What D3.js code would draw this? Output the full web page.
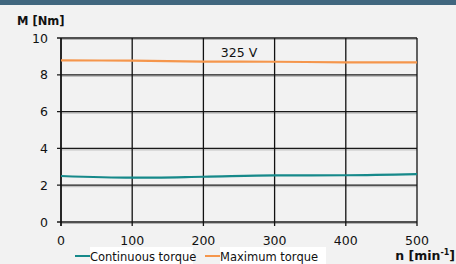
<!DOCTYPE html>
<html>
<head>
<meta charset="utf-8">
<script src="https://cdn.jsdelivr.net/npm/d3@7"></script>
<style>
  body { margin: 0; background: #f2f2f2; }
  text { font-family: "DejaVu Sans", Verdana, sans-serif; }
</style>
</head>
<body>
<div id="chart"></div>
<script>
// chart data
const speeds = [0, 100, 200, 300, 400, 500];
const continuousTorque = [2.5, 2.41, 2.46, 2.53, 2.54, 2.6];
const maximumTorque = [8.78, 8.77, 8.72, 8.71, 8.68, 8.68];
const xTicks = [0, 100, 200, 300, 400, 500];
const yTicks = [0, 2, 4, 6, 8, 10];
const seriesNames = ["Continuous torque", "Maximum torque"];
const voltageLabel = "325 V";

const W = 456, H = 264;
const m = { top: 38, right: 39, bottom: 42, left: 61 };

const svg = d3.select("#chart").append("svg")
  .attr("width", W).attr("height", H);

svg.append("rect").attr("width", W).attr("height", H).attr("fill", "#f2f2f2");
// header stripe
svg.append("rect").attr("width", W).attr("height", 5).attr("fill", "#41677f");

const x = d3.scaleLinear().domain([0, 500]).range([m.left, W - m.right]);
const y = d3.scaleLinear().domain([0, 10]).range([H - m.bottom, m.top]);

// horizontal grid (dark line with grey shadow)
svg.selectAll(".hshadow").data(yTicks).enter().append("line")
  .attr("x1", x(0)).attr("x2", x(500))
  .attr("y1", d => y(d) + 1.5).attr("y2", d => y(d) + 1.5)
  .attr("stroke", "#b4b4b4").attr("stroke-width", 1);
svg.selectAll(".hgrid").data(yTicks).enter().append("line")
  .attr("x1", x(0) - 4).attr("x2", x(500))
  .attr("y1", d => y(d)).attr("y2", d => y(d))
  .attr("stroke", "#1a1a1a").attr("stroke-width", 1.3);

// vertical grid
svg.selectAll(".vgrid").data(xTicks).enter().append("line")
  .attr("x1", d => x(d)).attr("x2", d => x(d))
  .attr("y1", y(10)).attr("y2", y(0) + 4)
  .attr("stroke", "#111").attr("stroke-width", d => d === 0 ? 1.8 : 1.3);

// tick labels
svg.selectAll(".ylab").data(yTicks).enter().append("text")
  .attr("x", x(0) - 13).attr("y", d => y(d) + 4.5)
  .attr("text-anchor", "end").attr("font-size", 12.5).attr("fill", "#111")
  .text(d => d);
svg.selectAll(".xlab").data(xTicks).enter().append("text")
  .attr("x", d => x(d)).attr("y", y(0) + 23)
  .attr("text-anchor", "middle").attr("font-size", 12.5).attr("fill", "#111")
  .text(d => d);

// axis titles
svg.append("text").attr("x", 17).attr("y", 25)
  .attr("font-size", 11.5).attr("font-weight", "bold").attr("fill", "#111")
  .text("M [Nm]");
const nt = svg.append("text").attr("x", 455).attr("y", 260)
  .attr("text-anchor", "end").attr("font-size", 12.5).attr("font-weight", "bold").attr("fill", "#111");
nt.append("tspan").text("n [min");
nt.append("tspan").attr("dy", -5).attr("font-size", 8).text("-1");
nt.append("tspan").attr("dy", 5).text("]");

// series lines
const line = d3.line().x((d, i) => x(speeds[i])).y(d => y(d)).curve(d3.curveMonotoneX);
const colors = ["#16898a", "#f5964c"];
[continuousTorque, maximumTorque].forEach((s, k) => {
  svg.append("path").attr("d", line(s))
    .attr("fill", "none").attr("stroke", colors[k]).attr("stroke-width", 2.2);
});

// voltage label
svg.append("text").attr("x", 239).attr("y", 57)
  .attr("text-anchor", "middle").attr("font-size", 12.5).attr("fill", "#111")
  .text(voltageLabel);

// legend
const legX = [75, 205];
const leg = svg.selectAll(".leg").data(seriesNames).enter().append("g")
  .attr("transform", (d, i) => `translate(${legX[i]},256)`);
leg.append("line").attr("x1", 0).attr("x2", 15).attr("y1", 0).attr("y2", 0)
  .attr("stroke", (d, i) => colors[i]).attr("stroke-width", 2);
leg.append("rect").attr("x", 15).attr("y", -9).attr("height", 18)
  .attr("width", (d, i) => i === 0 ? 103 : 106).attr("fill", "#fff");
leg.append("text").attr("x", 15).attr("y", 5)
  .attr("font-size", 11.5).attr("fill", "#111").text(d => d);
</script>
</body>
</html>
